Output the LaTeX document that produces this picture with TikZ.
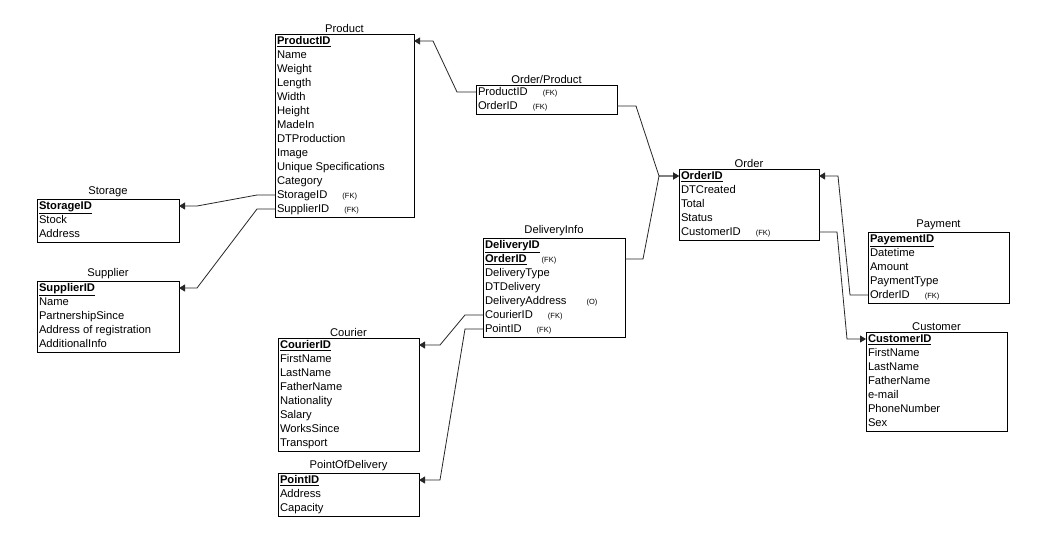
\documentclass[tikz,border=0pt]{standalone}
\usepackage{fontspec}
\setmainfont{Liberation Sans}
\usetikzlibrary{arrows.meta,calc}

\newcommand{\pk}[1]{\underline{\textbf{#1}}}
\newcommand{\fk}{\hspace{15pt}{\fontsize{7.5}{8}\selectfont (FK)}}
\newcommand{\opt}{\hspace{20pt}{\fontsize{7.5}{8}\selectfont (O)}}

% name, title, left, top, width, number of rows, rows
\newcommand{\ertable}[7]{%
	\node[tbl, minimum width=#5, minimum height={14*#6+1}, label={[ttl]above:#2}] (#1) at (#3,#4) {};
	\foreach \field [count=\idx] in {#7} {
		\node[row] (#1-\idx) at ($(#1.north west)+(0,{7+14*(\idx-1)})$) {\field};
	}
}

\begin{document}
\begin{tikzpicture}[x=1pt, y=-1pt, font=\fontsize{11.2}{13}\selectfont,
		tbl/.style={draw, line width=0.9pt, anchor=north west, inner sep=0pt, outer sep=0pt},
		ttl/.style={inner sep=1.5pt, label distance=0pt},
		row/.style={anchor=west, inner xsep=1.8pt, inner ysep=0pt, text height=9pt, text depth=2pt},
		rel/.style={draw=black!85, line width=0.8pt, -{Triangle[length=6pt,width=7pt]}}]
	\useasboundingbox[fill=white] (0,0) rectangle (1053,558);
	% ---- tables ----
	\ertable{product}{Product}{275}{34}{139}{13}{\pk{ProductID}, Name, Weight, Length, Width, Height, MadeIn, DTProduction, Image, Unique Specifications, Category, StorageID\fk, SupplierID\fk}
	\ertable{storage}{Storage}{37}{199}{142}{3}{\pk{StorageID}, Stock, Address}
	\ertable{supplier}{Supplier}{37}{281}{142}{5}{\pk{SupplierID}, Name, PartnershipSince, Address of registration, AdditionalInfo}
	\ertable{orderproduct}{Order/Product}{476}{85}{141}{2}{ProductID\fk, OrderID\fk}
	\ertable{order}{Order}{679}{169}{140}{5}{\pk{OrderID}, DTCreated, Total, Status, CustomerID\fk}
	\ertable{delivery}{DeliveryInfo}{483}{238}{142}{7}{\pk{DeliveryID}, \pk{OrderID}\fk, DeliveryType, DTDelivery, DeliveryAddress\opt, CourierID\fk, PointID\fk}
	\ertable{payment}{Payment}{868}{232}{141}{5}{\pk{PayementID}, Datetime, Amount, PaymentType, OrderID\fk}
	\ertable{customer}{Customer}{866}{332}{141}{7}{\pk{CustomerID}, FirstName, LastName, FatherName, e-mail, PhoneNumber, Sex}
	\ertable{courier}{Courier}{278}{338}{141}{8}{\pk{CourierID}, FirstName, LastName, FatherName, Nationality, Salary, WorksSince, Transport}
	\ertable{point}{PointOfDelivery}{278}{473}{141}{3}{\pk{PointID}, Address, Capacity}
	% ---- relations ----
	\draw[rel] (product.west |- product-12) -- ++(-18,0) -- ($(storage.east |- storage-1)+(18,0)$) -- (storage.east |- storage-1);
	\draw[rel] (product.west |- product-13) -- ++(-18,0) -- ($(supplier.east |- supplier-1)+(18,0)$) -- (supplier.east |- supplier-1);
	\draw[rel] (orderproduct.west |- orderproduct-1) -- ++(-19,0) -- ($(product.east |- product-1)+(19,0)$) -- (product.east |- product-1);
	\draw[rel] (orderproduct.east |- orderproduct-2) -- ++(19,0) -- ($(order.west |- order-1)+(-20,0)$) -- (order.west |- order-1);
	\draw[rel] (delivery.east |- delivery-2) -- ++(18,0) -- ($(order.west |- order-1)+(-20,0)$) -- (order.west |- order-1);
	\draw[rel] (payment.west |- payment-5) -- ++(-18,0) -- ($(order.east |- order-1)+(19,0)$) -- (order.east |- order-1);
	\draw[rel] (order.east |- order-5) -- ++(18,0) -- ($(customer.west |- customer-1)+(-19,0)$) -- (customer.west |- customer-1);
	\draw[rel] (delivery.west |- delivery-6) -- ++(-18,0) -- ($(courier.east |- courier-1)+(21,0)$) -- (courier.east |- courier-1);
	\draw[rel] (delivery.west |- delivery-7) -- ++(-18,0) -- ($(point.east |- point-1)+(21,0)$) -- (point.east |- point-1);
\end{tikzpicture}
\end{document}
